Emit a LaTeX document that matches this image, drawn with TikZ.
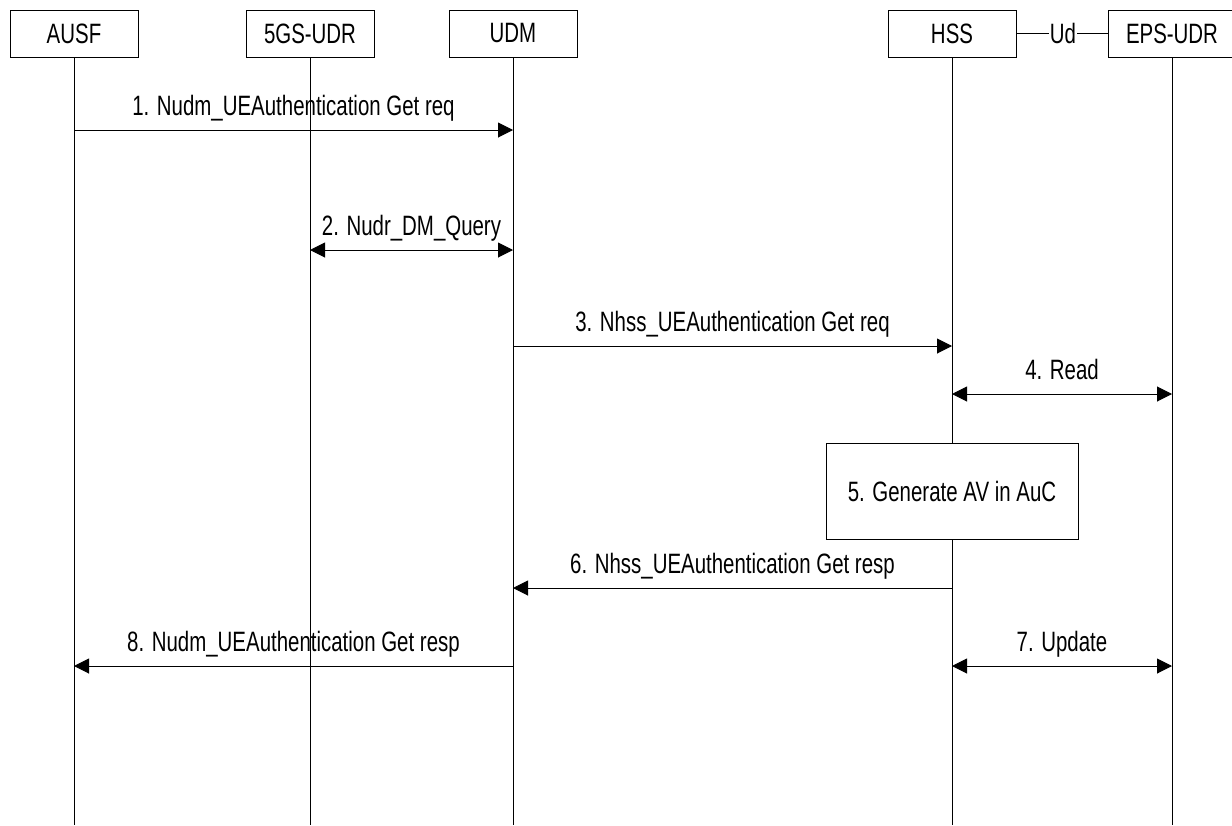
\documentclass[tikz,border=0pt]{standalone}
\usepackage{fontspec}
\setmainfont{Liberation Sans}[FakeStretch=0.73]
\usetikzlibrary{arrows.meta}
\tikzset{
	hbox/.style={draw, line width=1pt, minimum width=128pt, minimum height=47pt, inner sep=0pt},
	procbox/.style={draw, fill=white, line width=1pt, minimum width=252pt, minimum height=96pt, inner sep=0pt},
	life/.style={line width=1pt},
	msg/.style={line width=1pt, -{Triangle[length=15pt,width=15pt]}},
	bimsg/.style={line width=1pt, {Triangle[length=15pt,width=15pt]}-{Triangle[length=15pt,width=15pt]}},
	lbl/.style={midway, anchor=base, yshift=15pt, inner sep=0pt}
}

\begin{document}
\begin{tikzpicture}[x=1pt, y=-1pt, font=\fontsize{28}{32}\selectfont]
			%%%%% START %%%%%
			\useasboundingbox (0,0) rectangle (1232,825);
			
			\node[hbox] (ausf) at (74, 33.5) {AUSF};
			\node[hbox] (udr) at (310, 33.5) {5GS-UDR};
			\node[hbox] (udm) at (513, 33.5) {UDM};
			\node[hbox] (hss) at (952, 33.5) {HSS};
			\node[hbox] (epsudr) at (1172, 33.5) {EPS-UDR};
			
			\node[inner sep=1pt] (ud) at (1063, 33) {Ud};
			\draw[life] (hss.east |- ud) -- (ud.west);
			\draw[life] (ud.east) -- (epsudr.west |- ud);
			
			\coordinate (bot) at (0, 825);
			\foreach \n in {ausf, udr, udm, hss, epsudr}
				\draw[life] (\n.south) -- (\n |- bot);
			
			\coordinate (r1) at (0, 130);
			\coordinate (r2) at (0, 250);
			\coordinate (r3) at (0, 346);
			\coordinate (r4) at (0, 394);
			\coordinate (r6) at (0, 588);
			\coordinate (r7) at (0, 666);
			
			\draw[msg] (ausf |- r1) -- node[lbl] {1. Nudm\_UEAuthentication Get req} (udm |- r1);
			\draw[bimsg] (udr |- r2) -- node[lbl] {2. Nudr\_DM\_Query} (udm |- r2);
			\draw[msg] (udm |- r3) -- node[lbl] {3. Nhss\_UEAuthentication Get req} (hss |- r3);
			\draw[bimsg] (hss |- r4) -- node[lbl] {4. Read} (epsudr |- r4);
			
			\node[procbox] (gen) at (952, 491) {5. Generate AV in AuC};
			
			\draw[msg] (hss |- r6) -- node[lbl] {6. Nhss\_UEAuthentication Get resp} (udm |- r6);
			\draw[bimsg] (hss |- r7) -- node[lbl] {7. Update} (epsudr |- r7);
			\draw[msg] (udm |- r7) -- node[lbl] {8. Nudm\_UEAuthentication Get resp} (ausf |- r7);
			%%%%% END %%%%%
\end{tikzpicture}
\end{document}
